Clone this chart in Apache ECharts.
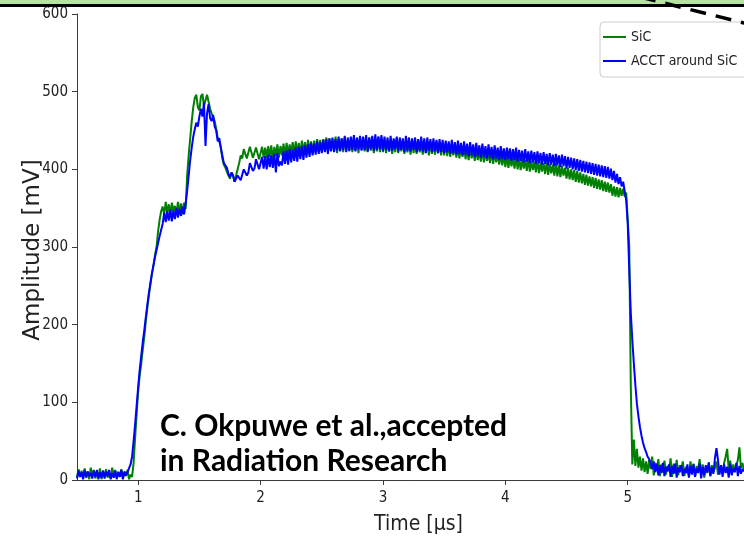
<!DOCTYPE html>
<html>
<head>
<meta charset="utf-8">
<script src="https://cdn.jsdelivr.net/npm/echarts@6/dist/echarts.min.js"></script>
<style>
  html, body { margin: 0; padding: 0; background: #fff; }
  #chart { width: 744px; height: 537px; }
</style>
</head>
<body>
<div id="chart"></div>
<script>
// Sampling clock of the scope traces (µs)
const T_START = 0.5;
const T_STEP = 0.0125;

// Axis ticks
const xTicks = [1, 2, 3, 4, 5];
const yTicks = [0, 100, 200, 300, 400, 500, 600];

// SiC detector signal (mV), one value per sample
const sic = [
  // 0.5000 – 0.9375
  3, 14, 5, 12, 2, 15, 4, 11, 1, 16, 6, 13, 2, 10, 4, 15, 1, 12, 5, 14,
  3, 9, 2, 16, 6, 13, 1, 11, 4, 14, 2, 10, 5, 13, 1, 7,
  // 0.9500 – 1.3875
  4, 22, 55, 85, 115, 135, 150, 168, 185, 205, 222, 238, 252, 266, 276, 290, 300, 320, 335, 346,
  352, 342, 358, 344, 355, 341, 357, 346, 353, 343, 358, 345, 356, 342, 357, 349,
  // 1.4000 – 1.9875
  392, 418, 440, 462, 480, 492, 496, 480, 476, 494, 497, 482, 481, 496, 494, 478, 472, 470, 462, 452,
  440, 436, 428, 414, 406, 402, 400, 392, 388, 396, 392, 384, 385, 400, 408, 418, 414, 426, 426, 414,
  416, 429, 428, 415, 414, 428, 427, 413,
  // 2.0000 – 2.4875
  413, 429, 415, 428, 414, 430, 416, 431, 412, 429, 417, 432, 415, 430, 418, 433, 416, 434, 419, 432,
  420, 435, 418, 436, 421, 434, 419, 437, 422, 435, 420, 438, 423, 436, 421, 437, 424, 439, 422, 438,
  // 2.5000 – 2.9875
  423, 439, 424, 441, 422, 440, 425, 438, 423, 442, 421, 439, 424, 440, 422, 441, 425, 438, 423, 440,
  422, 442, 424, 439, 421, 440, 425, 441, 423, 438, 422, 441, 424, 439, 421, 440, 423, 442, 422, 439,
  // 3.0000 – 3.4875
  422, 439, 421, 437, 423, 438, 420, 436, 422, 440, 421, 437, 423, 438, 420, 436, 422, 437, 419, 436,
  421, 437, 420, 435, 422, 436, 419, 437, 421, 435, 418, 436, 420, 434, 419, 436, 421, 435, 418, 434,
  // 3.5000 – 3.9875
  418, 433, 417, 432, 416, 431, 418, 430, 415, 429, 414, 430, 416, 428, 413, 427, 412, 428, 414, 426,
  411, 425, 412, 424, 410, 426, 409, 423, 411, 422, 408, 424, 407, 421, 409, 420, 406, 421, 405, 419,
  // 4.0000 – 4.4875
  403, 418, 402, 416, 404, 415, 401, 417, 400, 414, 399, 413, 401, 412, 398, 414, 397, 411, 399, 410,
  396, 412, 395, 409, 397, 408, 394, 410, 393, 407, 395, 406, 392, 408, 391, 405, 390, 404, 392, 402,
  // 4.5000 – 4.9875
  388, 402, 387, 400, 386, 399, 384, 398, 383, 396, 382, 394, 380, 393, 379, 391, 378, 390, 376, 389,
  375, 387, 374, 386, 372, 384, 371, 383, 370, 381, 366, 378, 365, 377, 364, 376, 366, 375, 365, 370,
  // 5.0000 – 5.4875
  368, 300, 120, 20, 52, 18, 40, 16, 30, 12, 28, 10, 24, 8, 26, 14, 30, 6, 22, 12,
  27, 5, 20, 10, 25, 7, 18, 12, 28, 4, 21, 9, 26, 6, 19, 13, 24, 5, 17, 11,
  // 5.5000 – 5.9500
  6, 24, 10, 21, 4, 18, 12, 27, 8, 20, 3, 16, 9, 23, 5, 19, 11, 15, 24, 7,
  13, 17, 9, 22, 30, 40, 14, 25, 8, 20, 12, 18, 26, 42, 15, 22, 12
];

// ACCT signal around the SiC detector (mV)
const acct = [
  // 0.5000 – 0.9375
  2, 12, 4, 10, 1, 13, 3, 11, 5, 9, 2, 12, 4, 13, 1, 10, 3, 12, 2, 11,
  5, 13, 1, 9, 3, 12, 2, 10, 4, 13, 1, 11, 6, 10, 12, 20,
  // 0.9500 – 1.3875
  30, 50, 72, 96, 120, 142, 160, 178, 193, 210, 226, 241, 254, 266, 277, 287, 296, 305, 314, 322,
  330, 344, 332, 346, 334, 348, 333, 347, 336, 350, 338, 349, 340, 352, 342, 356,
  // 1.4000 – 1.9875
  372, 392, 412, 428, 442, 452, 460, 455, 468, 478, 468, 486, 430, 472, 484, 466, 462, 470, 455, 450,
  436, 440, 428, 418, 408, 410, 402, 394, 390, 396, 392, 384, 383, 392, 394, 386, 388, 400, 402, 392,
  396, 408, 410, 398, 401, 413, 412, 400,
  // 2.0000 – 2.4875
  399, 416, 401, 417, 400, 419, 403, 418, 402, 420, 396, 421, 404, 410, 405, 423, 407, 424, 406, 426,
  409, 425, 411, 428, 410, 429, 413, 430, 412, 431, 415, 432, 416, 434, 418, 433, 419, 436, 420, 435,
  // 2.5000 – 2.9875
  421, 438, 422, 439, 420, 440, 423, 441, 422, 439, 424, 442, 423, 440, 425, 443, 422, 441, 424, 442,
  425, 444, 423, 441, 426, 443, 424, 442, 425, 444, 423, 441, 426, 443, 424, 445, 425, 442, 426, 444,
  // 3.0000 – 3.4875
  424, 442, 425, 441, 423, 443, 424, 440, 426, 442, 423, 441, 425, 440, 422, 443, 424, 441, 423, 440,
  425, 441, 422, 439, 424, 442, 423, 440, 421, 441, 424, 439, 422, 440, 423, 438, 421, 439, 422, 438,
  // 3.5000 – 3.9875
  421, 437, 422, 436, 420, 438, 421, 435, 419, 437, 420, 434, 418, 436, 419, 433, 417, 435, 418, 432,
  416, 434, 417, 431, 415, 433, 416, 430, 414, 432, 415, 429, 413, 431, 414, 428, 412, 430, 413, 427,
  // 4.0000 – 4.4875
  412, 428, 413, 427, 411, 426, 412, 428, 410, 425, 411, 424, 409, 426, 410, 423, 408, 424, 409, 422,
  407, 423, 408, 421, 406, 422, 407, 420, 405, 421, 406, 419, 404, 420, 405, 418, 403, 419, 404, 417,
  // 4.5000 – 4.9875
  401, 416, 402, 415, 400, 414, 399, 413, 398, 412, 397, 411, 396, 410, 395, 409, 394, 408, 393, 407,
  392, 406, 391, 405, 390, 404, 389, 403, 388, 401, 386, 398, 383, 394, 381, 390, 378, 384, 372, 360,
  // 5.0000 – 5.4875
  330, 270, 215, 180, 150, 122, 98, 82, 68, 57, 48, 41, 36, 30, 27, 22, 14, 24, 10, 21,
  6, 19, 9, 22, 5, 17, 11, 20, 4, 18, 8, 21, 3, 16, 10, 19, 5, 14, 9, 20,
  // 5.5000 – 5.9500
  3, 18, 7, 20, 4, 15, 9, 21, 2, 17, 6, 19, 10, 22, 5, 16, 8, 28, 41, 26,
  7, 19, 4, 20, 9, 17, 3, 21, 6, 15, 10, 22, 5, 18, 8, 14, 11
];

const toPairs = arr => arr.map((v, i) => [+(T_START + i * T_STEP).toFixed(4), v]);

const AXIS_FONT = "'DejaVu Sans Condensed', 'Liberation Sans Narrow', 'DejaVu Sans', sans-serif";
const AXIS_COLOR = '#3a3a3a';
const TEXT_COLOR = '#222222';
const X_MIN = 0.5, X_MAX = 5.95;
const TRACE_WIDTH = 2;

const chart = echarts.init(document.getElementById('chart'), null, { renderer: 'canvas' });

chart.setOption({
  animation: false,
  backgroundColor: '#ffffff',
  grid: { left: 77, right: 0, top: 14, bottom: 57, containLabel: false, outerBoundsMode: 'none' },
  legend: {
    orient: 'vertical',
    left: 600,
    top: 22,
    padding: [8, 10, 9, 3],
    itemGap: 10,
    itemWidth: 23,
    itemHeight: 2,
    itemTextGap: 10,
    icon: 'rect',
    backgroundColor: '#ffffff',
    borderColor: '#cccccc',
    borderWidth: 1,
    borderRadius: 4,
    textStyle: { fontFamily: AXIS_FONT, fontSize: 14, lineHeight: 14, color: TEXT_COLOR },
    data: ['SiC', 'ACCT around SiC']
  },
  xAxis: [{
    type: 'value',
    min: X_MIN,
    max: X_MAX,
    name: 'Time [µs]',
    nameLocation: 'middle',
    nameGap: 34,
    nameMoveOverlap: false,
    nameTextStyle: { fontFamily: AXIS_FONT, fontSize: 21, color: TEXT_COLOR, padding: [0, 0, 0, 16] },
    axisLine: { show: true, onZero: false, lineStyle: { color: AXIS_COLOR, width: 1 } },
    axisTick: { show: true, length: 5, customValues: xTicks, lineStyle: { color: AXIS_COLOR } },
    axisLabel: { customValues: xTicks, margin: 11, fontFamily: AXIS_FONT, fontSize: 15, color: TEXT_COLOR },
    splitLine: { show: false }
  }, {
    type: 'value',
    position: 'top',
    min: X_MIN,
    max: X_MAX,
    axisLine: { show: true, lineStyle: { color: AXIS_COLOR, width: 1 } },
    axisTick: { show: false },
    axisLabel: { show: false },
    splitLine: { show: false }
  }],
  yAxis: {
    type: 'value',
    min: 0,
    max: 600,
    interval: 100,
    axisLine: { show: true, lineStyle: { color: AXIS_COLOR, width: 1 } },
    axisTick: { show: true, length: 5, customValues: yTicks, lineStyle: { color: AXIS_COLOR } },
    axisLabel: { customValues: yTicks, margin: 9, fontFamily: AXIS_FONT, fontSize: 15, color: TEXT_COLOR },
    splitLine: { show: false }
  },
  series: [{
    name: 'SiC',
    type: 'line',
    xAxisIndex: 0,
    data: toPairs(sic),
    symbol: 'none',
    sampling: null,
    lineStyle: { color: '#008000', width: TRACE_WIDTH },
    itemStyle: { color: '#008000' }
  }, {
    name: 'ACCT around SiC',
    type: 'line',
    xAxisIndex: 0,
    data: toPairs(acct),
    symbol: 'none',
    sampling: null,
    lineStyle: { color: '#0000ff', width: TRACE_WIDTH },
    itemStyle: { color: '#0000ff' }
  }],
  graphic: [
    // vertical axis title
    {
      type: 'text',
      x: 33,
      y: 250,
      rotation: Math.PI / 2,
      z: 40,
      style: {
        text: 'Amplitude [mV]',
        x: 0,
        y: 0,
        align: 'center',
        verticalAlign: 'middle',
        font: "23px 'DejaVu Sans', sans-serif",
        fill: TEXT_COLOR
      }
    },
    // citation note inside the plot
    {
      type: 'text',
      left: 160,
      top: 409,
      z: 50,
      style: {
        text: 'C. Okpuwe et al.,accepted\nin Radiation Research',
        font: "bold 30px Lato, 'Open Sans', sans-serif",
        lineHeight: 35,
        fill: '#000'
      }
    },
    // slide banner along the top edge
    { type: 'rect', z: 60, shape: { x: 0, y: 0, width: 744, height: 5 }, style: { fill: '#b4e4a0' } },
    { type: 'rect', z: 61, shape: { x: 0, y: 4, width: 744, height: 3 }, style: { fill: '#000' } },
    // dashed pointer line at the top right
    {
      type: 'line', z: 62,
      shape: { x1: 640, y1: -3, x2: 760, y2: 27 },
      style: { stroke: '#000', lineWidth: 3.5, lineDash: [16, 10] }
    }
  ]
});
</script>
</body>
</html>
